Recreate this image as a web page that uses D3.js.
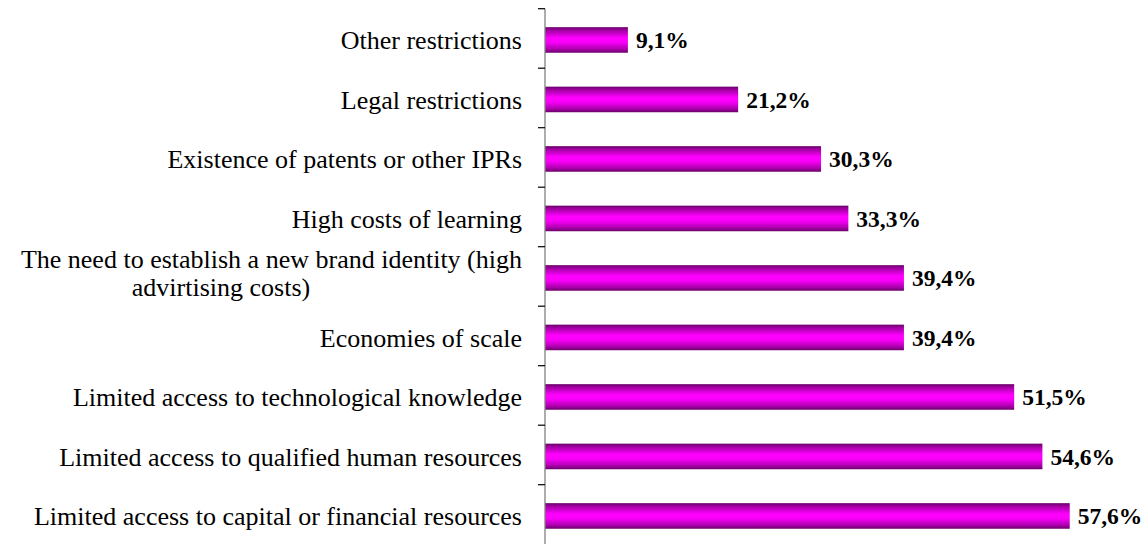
<!DOCTYPE html>
<html><head><meta charset="utf-8">
<script src="https://cdn.jsdelivr.net/npm/d3@7"></script>
<style>body{margin:0;background:#fff}svg{display:block}</style>
</head><body>
<script>
const categories = [
  "Other restrictions",
  "Legal restrictions",
  "Existence of patents or other IPRs",
  "High costs of learning",
  "The need to establish a new brand identity (high|advirtising costs)",
  "Economies of scale",
  "Limited access to technological knowledge",
  "Limited access to qualified human resources",
  "Limited access to capital or financial resources"
];
const values = [9.1, 21.2, 30.3, 33.3, 39.4, 39.4, 51.5, 54.6, 57.6];
const valueLabels = ["9,1%", "21,2%", "30,3%", "33,3%", "39,4%", "39,4%", "51,5%", "54,6%", "57,6%"];

const W = 1148, H = 544;
const svg = d3.select("body").append("svg").attr("width", W).attr("height", H);

const axisX = 545;
const x = d3.scaleLinear().domain([0, 60]).range([axisX, axisX + 546.6]);
const y = d3.scaleBand().domain(categories).range([8.7, 544.2]).paddingInner(0.57).paddingOuter(0.285);
const yb = d3.scaleBand().domain(categories).range([8.7, 544.2]);

const defs = svg.append("defs");
const g = defs.append("linearGradient").attr("id", "barg").attr("x1", 0).attr("y1", 0).attr("x2", 0).attr("y2", 1);
[[0, "#6a006a"], [0.12, "#a000a0"], [0.42, "#ff00ff"], [0.6, "#f800f8"], [0.85, "#b000b0"], [1, "#6a006a"]]
  .forEach(([o, c]) => g.append("stop").attr("offset", o).attr("stop-color", c));

// bars
svg.selectAll("rect.bar").data(values).enter().append("rect")
  .attr("class", "bar")
  .attr("x", x(0))
  .attr("y", (d, i) => y(categories[i]) + 1.5)
  .attr("width", d => x(d) - x(0))
  .attr("height", y.bandwidth())
  .attr("fill", "url(#barg)");

// axis line and ticks at category boundaries
svg.append("line").attr("x1", axisX).attr("x2", axisX).attr("y1", 8.7).attr("y2", H)
  .attr("stroke", "#808080").attr("stroke-width", 1.3);
const tickYs = categories.map(c => yb(c));
svg.selectAll("line.tick").data(tickYs).enter().append("line")
  .attr("x1", axisX - 7).attr("x2", axisX).attr("y1", d => d).attr("y2", d => d)
  .attr("stroke", "#000").attr("stroke-width", 1.2);

// category labels
const labFont = "'Liberation Serif','Times New Roman',Times,serif";
const labSize = 26;
categories.forEach((c, i) => {
  const cy = y(c) + 1.5 + y.bandwidth() / 2;
  const parts = c.split("|");
  if (parts.length === 1) {
    svg.append("text").attr("x", 522).attr("y", cy).attr("dy", "0.35em")
      .attr("text-anchor", "end").attr("font-family", labFont).attr("font-size", labSize)
      .attr("fill", "#000").text(c);
  } else {
    svg.append("text").attr("x", 522).attr("y", cy - 19).attr("dy", "0.35em")
      .attr("text-anchor", "end").attr("font-family", labFont).attr("font-size", labSize)
      .attr("fill", "#000").text(parts[0]);
    svg.append("text").attr("x", 221).attr("y", cy + 9).attr("dy", "0.35em")
      .attr("text-anchor", "middle").attr("font-family", labFont).attr("font-size", labSize)
      .attr("fill", "#000").text(parts[1]);
  }
});

// value labels
svg.selectAll("text.val").data(values).enter().append("text")
  .attr("class", "val")
  .attr("x", d => x(d) + 8)
  .attr("y", (d, i) => y(categories[i]) + 1.5 + y.bandwidth() / 2)
  .attr("dy", "0.35em")
  .attr("font-family", labFont).attr("font-weight", "bold").attr("font-size", 23.5)
  .attr("fill", "#000")
  .text((d, i) => valueLabels[i]);
</script>
</body></html>
